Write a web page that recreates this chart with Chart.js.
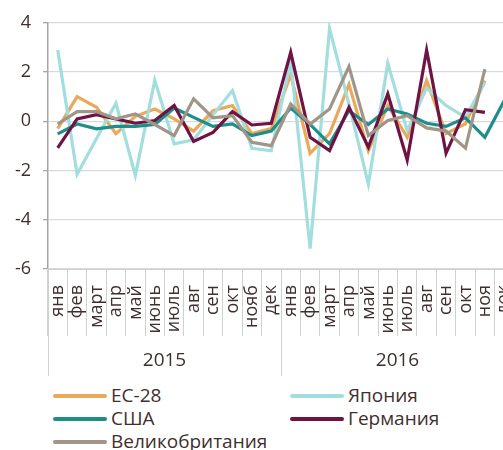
<!DOCTYPE html>
<html>
<head>
<meta charset="utf-8">
<script src="https://cdn.jsdelivr.net/npm/chart.js@4"></script>
<style>
  html, body { margin: 0; padding: 0; background: #fff; overflow: hidden; width: 503px; height: 450px; }
  #wrap { position: absolute; left: 0; top: 0; width: 516px; height: 380px; }
  #legend { position: absolute; left: 0; top: 384px; width: 503px; height: 66px; font-family: "Open Sans", sans-serif; font-size: 19px; color: #3f2f2f; }
  .item { position: absolute; height: 23px; line-height: 23px; white-space: nowrap; }
  .item .ln { position: absolute; left: 0; top: 10px; width: 54px; height: 4px; border-radius: 2px; }
  .item .tx { position: absolute; left: 58px; top: 0; }
</style>
</head>
<body>
<div id="wrap"><canvas id="c" width="516" height="380"></canvas></div>
<div id="legend"></div>
<script>
const months = ['янв','фев','март','апр','май','июнь','июль','авг','сен','окт','нояб','дек',
                'янв','фев','март','апр','май','июнь','июль','авг','сен','окт','ноя','дек'];
const years = ['2015','2016'];
const yTicks = [-6,-4,-2,0,2,4];

const seriesNames = ['ЕС-28','Япония','США','Германия','Великобритания'];
const seriesColors = ['#EAA95A','#A3DEDE','#1E8E8A','#6F1344','#A09587'];

const eu28    = [-0.3, 1.0, 0.57,-0.5, 0.2, 0.5, 0.1,-0.4, 0.43, 0.64,-0.5,-0.3,
                  1.9,-1.3,-0.5, 1.5,-1.2, 0.64,-0.65, 1.65,-0.5,-0.1, 1.65, null];
const japan   = [ 2.9,-2.15,-0.7, 0.73,-2.2, 1.67,-0.92,-0.75, 0.26, 1.25,-1.1,-1.2,
                  2.45,-5.17, 3.77, 0.7,-2.55, 2.35,-0.38, 1.35, 0.64, 0.16, 1.58, null];
const usa     = [-0.51,-0.11,-0.31,-0.21,-0.21,-0.13, 0.54, 0.16,-0.21,-0.11,-0.58,-0.4,
                  0.54,-0.13,-0.92, 0.43,-0.13, 0.5, 0.3,-0.08,-0.21, 0.14,-0.65, 0.84];
const germany = [-1.08, 0.1, 0.27, 0.1,-0.08, 0.03, 0.64,-0.82,-0.45, 0.39,-0.15,-0.08,
                  2.8,-0.65,-1.19, 0.57,-1.05, 1.11,-1.57, 2.89,-1.3, 0.47, 0.36, null];
const uk      = [-0.11, 0.39, 0.39, 0.1, 0.3,-0.13,-0.58, 0.91, 0.14, 0.23,-0.85,-0.99,
                  0.7,-0.11, 0.5, 2.22,-0.58, 0.03, 0.23,-0.27,-0.4,-1.09, 2.12, null];
const seriesData = [eu28, japan, usa, germany, uk];

const textColor = '#3f2f2f';
const fontFam = '"Open Sans", sans-serif';

// legend (HTML, two columns)
const legendPos = [[53,0],[290,0],[53,23],[290,23],[53,46]];
const legendEl = document.getElementById('legend');
seriesNames.forEach((n, i) => {
  const d = document.createElement('div');
  d.className = 'item';
  d.style.left = legendPos[i][0] + 'px';
  d.style.top = legendPos[i][1] + 'px';
  d.innerHTML = '<div class="ln" style="background:' + seriesColors[i] + '"></div><div class="tx">' + n + '</div>';
  legendEl.appendChild(d);
});

const yearPlugin = {
  id: 'yearRow',
  afterDraw(chart) {
    const xs = chart.scales.x;
    const ctx = chart.ctx;
    const half = (xs.getPixelForValue(1) - xs.getPixelForValue(0)) / 2;
    const top = chart.chartArea.bottom;
    ctx.save();
    ctx.strokeStyle = '#d0d0d0';
    ctx.lineWidth = 1;
    [0, 12, 24].forEach(i => {
      const x = Math.round(xs.getPixelForValue(i) - half) + 0.5;
      ctx.beginPath();
      ctx.moveTo(x, top);
      ctx.lineTo(x, top + 107);
      ctx.stroke();
    });
    ctx.fillStyle = textColor;
    ctx.font = '19px ' + fontFam;
    ctx.textAlign = 'center';
    ctx.textBaseline = 'middle';
    years.forEach((y, k) => {
      const x = (xs.getPixelForValue(k * 12) + xs.getPixelForValue(k * 12 + 11)) / 2;
      ctx.fillText(y, x, top + 92);
    });
    ctx.restore();
  }
};

const datasets = seriesNames.map((n, i) => ({
  label: n,
  data: seriesData[i],
  borderColor: seriesColors[i],
  backgroundColor: seriesColors[i],
  borderWidth: 3.2,
  pointRadius: 0,
  pointHoverRadius: 0,
  tension: 0,
  fill: false,
  spanGaps: false,
  order: seriesNames.length - i
}));

new Chart(document.getElementById('c'), {
  type: 'line',
  data: { labels: months, datasets },
  plugins: [yearPlugin],
  options: {
    responsive: false,
    animation: false,
    events: [],
    layout: { padding: { top: 22, right: 2, left: 0, bottom: 44 } },
    plugins: { legend: { display: false }, tooltip: { enabled: false } },
    scales: {
      x: {
        type: 'category',
        offset: true,
        grid: {
          offset: true,
          drawOnChartArea: false,
          drawTicks: true,
          tickLength: 67,
          tickColor: '#d0d0d0',
          lineWidth: 1
        },
        border: { display: true, color: '#d0d0d0', width: 1 },
        ticks: {
          autoSkip: false,
          minRotation: 90,
          maxRotation: 90,
          padding: -51,
          color: textColor,
          font: { family: fontFam, size: 18 }
        },
        afterFit(s) { s.height = 67; }
      },
      y: {
        min: -6,
        max: 4,
        afterBuildTicks(s) { s.ticks = yTicks.map(v => ({ value: v })); },
        grid: {
          color: '#d9d9d9',
          lineWidth: 1.3,
          drawTicks: true,
          tickLength: 5,
          tickColor: '#a6a6a6'
        },
        border: { display: true, color: '#a6a6a6', width: 1.5 },
        ticks: {
          padding: 12,
          color: textColor,
          font: { family: fontFam, size: 18 }
        },
        afterFit(s) { s.width = 48; }
      }
    }
  }
});
</script>
</body>
</html>
